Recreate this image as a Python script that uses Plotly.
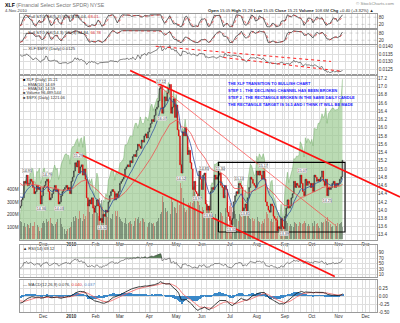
import numpy as np
import pandas as pd
import plotly.graph_objects as go

W, H = 400, 323
FONT = "Liberation Sans"

# ---------------- data ----------------
warmup_closes = [14.90, 15.00, 15.10, 15.20, 15.30, 15.10, 14.90, 14.80, 14.70, 14.90,
                 15.00, 14.60, 14.50, 14.60, 14.30, 14.20, 14.40, 14.30, 14.10, 14.05]

xlf_nov09 = [14.10, 14.25, 14.30, 14.70, 14.65, 14.85, 14.60, 14.65, 14.75, 14.70, 14.55, 14.40, 14.45, 14.60, 14.50, 14.55, 14.15, 14.35]
xlf_dec09 = [14.55, 14.60, 14.70, 14.75, 14.45, 14.25, 14.30, 14.40, 14.50, 14.60, 14.45, 14.50, 14.15, 14.20, 14.35, 14.45, 14.50, 14.55, 14.60, 14.50, 14.55, 14.40]
xlf_jan10 = [14.70, 14.80, 14.95, 15.15, 15.05, 15.20, 14.90, 15.05, 15.10, 14.85, 15.00, 14.75, 14.30, 14.10, 14.25, 14.15, 14.30, 14.05, 13.95]
xlf_feb10 = [14.10, 14.25, 14.10, 13.75, 13.80, 13.70, 13.90, 13.85, 14.00, 13.95, 14.20, 14.35, 14.45, 14.50, 14.45, 14.25, 14.40, 14.30, 14.45]
xlf_mar10 = [14.65, 14.70, 14.75, 14.80, 15.00, 15.05, 15.10, 15.05, 15.20, 15.15, 15.30, 15.35, 15.30, 15.45, 15.60, 15.55, 15.50, 15.70, 15.65, 15.80, 15.85, 15.75, 15.90]
xlf_apr10 = [16.00, 16.10, 16.20, 16.15, 16.30, 16.45, 16.50, 16.65, 16.95, 17.00, 16.35, 16.50, 16.75, 16.65, 16.85, 16.95, 17.05, 16.35, 16.50, 16.70, 16.25]
xlf_may10 = [16.55, 15.95, 15.80, 15.10, 14.90, 15.90, 15.80, 16.00, 15.80, 15.35, 15.45, 15.15, 15.00, 14.50, 14.70, 14.45, 14.40, 14.30, 14.95, 14.75]
xlf_jun10 = [14.50, 14.85, 14.90, 14.15, 14.00, 14.10, 14.00, 14.45, 14.55, 14.50, 14.85, 14.75, 14.80, 14.85, 14.90, 14.60, 14.55, 14.30, 14.60, 14.50, 13.95, 13.85]
xlf_jul10 = [13.75, 13.65, 13.80, 14.20, 14.35, 14.45, 14.40, 14.65, 14.60, 14.55, 13.95, 14.05, 14.15, 13.90, 14.30, 14.55, 14.80, 14.75, 14.65, 14.60, 14.55]
xlf_aug10 = [14.95, 14.85, 14.95, 14.85, 14.75, 14.95, 14.75, 14.20, 14.10, 14.00, 13.95, 14.15, 14.10, 13.85, 13.80, 13.75, 13.50, 13.60, 13.55, 13.80, 13.60, 13.55]
xlf_sep10 = [13.85, 14.05, 14.25, 14.05, 14.10, 14.30, 14.40, 14.70, 14.55, 14.65, 14.60, 14.55, 14.85, 14.65, 14.45, 14.35, 14.75, 14.60, 14.70, 14.65, 14.55]
xlf_oct10 = [14.65, 14.45, 14.85, 14.80, 14.70, 14.75, 14.70, 14.80, 14.95, 14.70, 14.60, 14.75, 14.35, 14.55, 14.50, 14.55, 14.65, 14.70, 14.55, 14.65, 14.60]
xlf_nov10 = [14.65, 14.75, 14.81, 15.21]

spx_nov09 = [1046, 1066, 1069, 1093, 1093, 1098, 1087, 1093, 1109, 1110, 1109, 1094, 1091, 1106, 1105, 1110, 1091, 1096]
spx_dec09 = [1109, 1110, 1099, 1106, 1104, 1092, 1096, 1102, 1106, 1114, 1108, 1110, 1096, 1102, 1114, 1118, 1121, 1127, 1128, 1126, 1126, 1115]
spx_jan10 = [1133, 1137, 1137, 1142, 1145, 1147, 1137, 1146, 1148, 1136, 1150, 1138, 1116, 1091, 1096, 1092, 1097, 1084, 1074]
spx_feb10 = [1090, 1104, 1098, 1063, 1066, 1056, 1070, 1068, 1078, 1075, 1095, 1099, 1106, 1109, 1108, 1095, 1105, 1102, 1105]
spx_mar10 = [1116, 1118, 1119, 1123, 1139, 1139, 1141, 1146, 1150, 1150, 1150, 1160, 1166, 1166, 1160, 1166, 1174, 1167, 1165, 1167, 1174, 1173, 1169]
spx_apr10 = [1178, 1187, 1190, 1182, 1187, 1194, 1197, 1197, 1211, 1211, 1192, 1198, 1207, 1205, 1208, 1217, 1212, 1183, 1191, 1207, 1187]
spx_may10 = [1202, 1173, 1166, 1128, 1111, 1160, 1156, 1171, 1158, 1136, 1136, 1121, 1116, 1072, 1088, 1074, 1075, 1067, 1103, 1089]
spx_jun10 = [1071, 1099, 1103, 1065, 1050, 1063, 1056, 1087, 1092, 1090, 1115, 1115, 1116, 1118, 1113, 1095, 1093, 1076, 1077, 1074, 1041, 1031]
spx_jul10 = [1027, 1022, 1028, 1060, 1070, 1078, 1079, 1095, 1096, 1096, 1065, 1071, 1083, 1069, 1094, 1103, 1115, 1113, 1106, 1101, 1102]
spx_aug10 = [1125, 1120, 1128, 1125, 1122, 1128, 1122, 1089, 1084, 1080, 1080, 1093, 1095, 1075, 1071, 1067, 1052, 1055, 1047, 1065, 1049, 1049]
spx_sep10 = [1080, 1090, 1105, 1092, 1099, 1104, 1110, 1122, 1121, 1125, 1125, 1126, 1143, 1140, 1134, 1124, 1148, 1142, 1147, 1145, 1141]
spx_oct10 = [1146, 1138, 1160, 1159, 1158, 1166, 1166, 1170, 1178, 1173, 1176, 1185, 1166, 1178, 1180, 1183, 1185, 1185, 1182, 1183, 1183]
spx_nov10 = [1185, 1193, 1198, 1221]

vol_nov09 = [150, 140, 110, 130, 100, 120, 115, 95, 130, 110, 105, 140, 120, 115, 100, 70, 90, 130]
vol_dec09 = [150, 130, 160, 140, 150, 170, 130, 120, 110, 120, 140, 160, 190, 170, 120, 100, 80, 40, 70, 80, 90, 100]
vol_jan10 = [140, 180, 150, 190, 170, 160, 230, 170, 150, 200, 160, 190, 290, 310, 220, 230, 200, 260, 280]
vol_feb10 = [220, 210, 190, 330, 320, 260, 240, 200, 190, 180, 210, 170, 160, 200, 150, 230, 190, 230, 180]
vol_mar10 = [160, 150, 140, 130, 170, 120, 130, 140, 150, 120, 110, 150, 170, 160, 180, 130, 150, 170, 160, 140, 110, 100, 130]
vol_apr10 = [140, 130, 120, 130, 110, 140, 150, 170, 200, 220, 350, 300, 250, 220, 230, 210, 200, 340, 300, 260, 250]
vol_may10 = [210, 300, 280, 450, 410, 330, 250, 220, 240, 290, 280, 300, 290, 420, 380, 250, 330, 300, 280, 220]
vol_jun10 = [260, 240, 210, 320, 280, 260, 250, 220, 190, 180, 200, 170, 160, 200, 220, 210, 190, 230, 250, 180, 300, 270]
vol_jul10 = [290, 260, 220, 230, 200, 160, 150, 200, 190, 180, 260, 190, 200, 210, 200, 170, 160, 170, 150, 160, 150]
vol_aug10 = [180, 150, 140, 120, 150, 130, 160, 220, 200, 170, 150, 160, 140, 180, 150, 140, 190, 170, 180, 160, 120, 150]
vol_sep10 = [200, 150, 130, 110, 120, 110, 100, 140, 130, 120, 110, 140, 130, 120, 130, 150, 130, 110, 120, 110, 120]
vol_oct10 = [130, 110, 150, 120, 130, 110, 90, 140, 130, 140, 160, 150, 180, 140, 120, 100, 110, 110, 120, 110, 130]
vol_nov10 = [120, 130, 140, 97]

month_labels = ["Dec", "<b>2010</b>", "Feb", "Mar", "Apr", "May", "Jun", "Jul", "Aug", "Sep", "Oct", "Nov", "Dec"]

upper_channel = (["2010-03-11", "2011-01-10"], [17.39, 14.32])
lower_channel = (["2010-01-08", "2010-10-27"], [15.40, 12.39])
thin_line = (["2010-04-13", "2010-10-27"], [17.03, 13.64])
rect_dates = ["2010-06-18", "2010-11-08"]
rect_prices = [13.47, 15.16]
ratio_line1 = (["2010-04-09", "2010-10-22"], [0.01402, 0.01302])
ratio_line2 = (["2010-06-24", "2010-11-04"], [0.01328, 0.01237])

pivots = [("2009-11-11", "14.95", 1), ("2009-11-27", "14.36", -1), ("2009-12-04", "14.79", 1),
          ("2009-12-17", "14.03", -1), ("2010-01-11", "15.29", 1), ("2010-02-08", "13.52", -1),
          ("2010-04-15", "17.12", 1), ("2010-04-16", "16.07", -1), ("2010-05-07", "14.52", -1),
          ("2010-05-25", "13.97", -1), ("2010-06-03", "14.85", 1), ("2010-06-08", "13.84", -1),
          ("2010-06-21", "15.30", 1), ("2010-07-02", "13.31", -1), ("2010-07-13", "15.13", 1),
          ("2010-07-20", "13.81", -1), ("2010-08-09", "15.17", 1), ("2010-08-31", "13.39", -1),
          ("2010-09-21", "15.07", 1), ("2010-10-19", "14.25", -1)]

# ---------------- derived ----------------
closes = (xlf_nov09 + xlf_dec09 + xlf_jan10 + xlf_feb10 + xlf_mar10 + xlf_apr10 + xlf_may10 +
          xlf_jun10 + xlf_jul10 + xlf_aug10 + xlf_sep10 + xlf_oct10 + xlf_nov10)
spx = (spx_nov09 + spx_dec09 + spx_jan10 + spx_feb10 + spx_mar10 + spx_apr10 + spx_may10 +
       spx_jun10 + spx_jul10 + spx_aug10 + spx_sep10 + spx_oct10 + spx_nov10)
vols = (vol_nov09 + vol_dec09 + vol_jan10 + vol_feb10 + vol_mar10 + vol_apr10 + vol_may10 +
        vol_jun10 + vol_jul10 + vol_aug10 + vol_sep10 + vol_oct10 + vol_nov10)

holidays = pd.to_datetime(['2009-11-26', '2009-12-25', '2010-01-01', '2010-01-18', '2010-02-15', '2010-04-02',
                           '2010-05-31', '2010-07-05', '2010-09-06', '2010-11-25', '2010-12-24'])
all_days = pd.bdate_range('2009-11-04', '2011-01-31')
all_days = all_days[~all_days.isin(holidays)]
n = len(closes)
idx = list(range(n))

def di(s):
    return int(all_days.searchsorted(pd.Timestamp(s)))

mt = []
prev_m = None
for i, d in enumerate(all_days):
    if d.month != prev_m:
        if i > 0:
            mt.append(i)
        prev_m = d.month
mt = mt[:len(month_labels)]
wk = [i for i, d in enumerate(all_days) if i > 0 and d.weekday() < all_days[i - 1].weekday() and i < 285]
gvals = sorted(set(wk) | set(mt))
gtext = [month_labels[mt.index(v)] if v in mt else "" for v in gvals]

allc = np.array(warmup_closes + closes, dtype=float)
nw = len(warmup_closes)
prevc = np.concatenate([[allc[0]], allc[:-1]])
hi = np.maximum(prevc, allc)
lo = np.minimum(prevc, allc)
s = pd.Series(allc)
opens = prevc[nw:].tolist()
highs = hi[nw:].tolist()
lows = lo[nw:].tolist()
cl = allc[nw:].tolist()

ema10 = s.ewm(span=10, adjust=False).mean().values[nw:].tolist()
ema34 = s.ewm(span=34, adjust=False).mean().values[nw:].tolist()

def full_sto(k, sk=3, d=3):
    hh = pd.Series(hi).rolling(k, min_periods=1).max()
    ll = pd.Series(lo).rolling(k, min_periods=1).min()
    rng = (hh - ll).replace(0, np.nan)
    fast = (100 * (s - ll) / rng).fillna(50)
    slow = fast.rolling(sk, min_periods=1).mean()
    dd = slow.rolling(d, min_periods=1).mean()
    return slow.values[nw:].tolist(), dd.values[nw:].tolist()

sto1k, sto1d = full_sto(5)
sto2k, sto2d = full_sto(14)
ratio = (np.array(closes) / np.array(spx)).tolist()

delta = s.diff().fillna(0)
up = delta.clip(lower=0).ewm(alpha=1 / 14, adjust=False).mean()
dn = (-delta.clip(upper=0)).ewm(alpha=1 / 14, adjust=False).mean()
rsi = (100 - 100 / (1 + up / dn.replace(0, np.nan))).fillna(50).values[nw:]

macd_s = (s.ewm(span=12, adjust=False).mean() - s.ewm(span=26, adjust=False).mean())
sig_s = macd_s.ewm(span=9, adjust=False).mean()
hist = (macd_s - sig_s).values[nw:].tolist()
macd = macd_s.values[nw:].tolist()
sig = sig_s.values[nw:].tolist()

# ---------------- layout geometry ----------------
PL, PR = 19.5, 377.0
XR = [-0.5, 279.0]

def xd(l, r):
    return [l / W, r / W]

def yd(t, b):
    return [1 - b / H, 1 - t / H]

MAIN = (76, 242)
def price_at(y):
    return 17.2 - (y - 79) / 41.6
PRANGE = [price_at(MAIN[1]), price_at(MAIN[0])]
def spx_at(y):
    return 1221 - (y - 80) / 0.809
SRANGE = [spx_at(MAIN[1]), spx_at(MAIN[0])]
VRANGE = [0, (MAIN[1] - MAIN[0]) / 12.6 * 100]
ptick = [round(float(v), 1) for v in np.arange(13.4, 17.21, 0.2)]
def y_of_price(p):
    return 79 + (17.2 - p) * 41.6
stick = [spx_at(y_of_price(p)) for p in ptick]

RAT = (45, 76)
def ratio_at(y):
    return 0.0140 - (y - 47) / 15333.0
RRANGE = [ratio_at(RAT[1]), ratio_at(RAT[0])]

STO1 = (14, 28)
STO2 = (30, 44)
RSIP = (247, 280)
def rsi_at(y):
    return 90 - (y - 255) / 0.275
RSIR = [rsi_at(RSIP[1]), rsi_at(RSIP[0])]
MACP = (283, 315)
def macd_at(y):
    return 0.25 - (y - 291) / 32.0
MRANGE = [macd_at(MACP[1]), macd_at(MACP[0])]

def u_at(px):
    return XR[0] + (px - PL) / (PR - PL) * (XR[1] - XR[0])

GRID = "#dedede"
BORDER = "#9a9a9a"
TICKF = dict(size=4.6, color="#333", family=FONT)

def xaxis_cfg(dom_anchor, labels=False):
    return dict(domain=xd(PL, PR), range=XR, anchor=dom_anchor, tickmode="array", tickvals=gvals,
                ticktext=gtext, showticklabels=labels, tickfont=TICKF, ticks="",
                showgrid=True, gridcolor=GRID, gridwidth=0.6, zeroline=False,
                showline=True, mirror=True, linecolor=BORDER, linewidth=0.7,
                rangeslider=dict(visible=False))

def yaxis_cfg(dom, rng, tv, tt, anchor, grid=True):
    return dict(domain=yd(*dom), range=rng, anchor=anchor, side="right", tickmode="array",
                tickvals=tv, ticktext=tt, tickfont=TICKF, ticks="", showgrid=grid, gridcolor=GRID,
                gridwidth=0.5, zeroline=False, showline=True, mirror=True, linecolor=BORDER,
                linewidth=0.7)

fig = go.Figure()

fig.add_trace(go.Scatter(x=idx, y=spx, mode="lines", fill="tozeroy", line=dict(color="rgba(110,170,100,0.9)", width=0.5),
                         fillcolor="rgba(150,200,140,0.65)", xaxis="x", yaxis="y", hoverinfo="skip"))
vcol = ["rgba(205,90,80,0.6)" if (i > 0 and closes[i] < closes[i - 1]) else "rgba(70,80,70,0.5)" for i in range(n)]
fig.add_trace(go.Bar(x=idx, y=vols, marker=dict(color=vcol, line=dict(width=0)), width=0.75,
                     xaxis="x", yaxis="y2", hoverinfo="skip"))
fig.add_trace(go.Scatter(x=idx, y=ema34, mode="lines", line=dict(color="#f05050", width=0.8), xaxis="x", yaxis="y3"))
fig.add_trace(go.Scatter(x=idx, y=ema10, mode="lines", line=dict(color="#3050a0", width=0.8), xaxis="x", yaxis="y3"))
fig.add_trace(go.Candlestick(x=idx, open=opens, high=highs, low=lows, close=cl, xaxis="x", yaxis="y3",
                             increasing=dict(line=dict(color="#111", width=0.6), fillcolor="#ffffff"),
                             decreasing=dict(line=dict(color="#e00000", width=0.6), fillcolor="#e00000"),
                             whiskerwidth=0, hoverinfo="skip"))
rx = [di(rect_dates[0]), di(rect_dates[1]), di(rect_dates[1]), di(rect_dates[0]), di(rect_dates[0])]
ry = [rect_prices[0], rect_prices[0], rect_prices[1], rect_prices[1], rect_prices[0]]
fig.add_trace(go.Scatter(x=rx, y=ry, mode="lines", line=dict(color="#000", width=1.1), xaxis="x", yaxis="y3"))

for (kk, dd, xa, ya) in [(sto1k, sto1d, "x2", "y4"), (sto2k, sto2d, "x3", "y5")]:
    fig.add_trace(go.Scatter(x=[XR[0], XR[1]], y=[80, 80], mode="lines", line=dict(color="#aaa", width=0.5, dash="dot"), xaxis=xa, yaxis=ya))
    fig.add_trace(go.Scatter(x=[XR[0], XR[1]], y=[20, 20], mode="lines", line=dict(color="#aaa", width=0.5, dash="dot"), xaxis=xa, yaxis=ya))
    fig.add_trace(go.Scatter(x=idx, y=kk, mode="lines", line=dict(color="#222", width=0.7), xaxis=xa, yaxis=ya))
    fig.add_trace(go.Scatter(x=idx, y=dd, mode="lines", line=dict(color="#e03030", width=0.7, dash="dot"), xaxis=xa, yaxis=ya))

fig.add_trace(go.Scatter(x=idx, y=ratio, mode="lines", line=dict(color="#333", width=0.6), xaxis="x4", yaxis="y6"))
for ln in (ratio_line1, ratio_line2):
    fig.add_trace(go.Scatter(x=[di(d) for d in ln[0]], y=ln[1], mode="lines",
                             line=dict(color="#ff2020", width=1.0, dash="dot"), xaxis="x4", yaxis="y6"))

fig.add_trace(go.Scatter(x=idx, y=[70.0] * n, mode="lines", line=dict(color="#999", width=0.4), xaxis="x5", yaxis="y7"))
fig.add_trace(go.Scatter(x=idx, y=np.maximum(rsi, 70).tolist(), mode="lines", line=dict(width=0), fill="tonexty",
                         fillcolor="rgba(50,100,50,0.85)", xaxis="x5", yaxis="y7"))
fig.add_trace(go.Scatter(x=idx, y=[30.0] * n, mode="lines", line=dict(color="#999", width=0.4), xaxis="x5", yaxis="y7"))
fig.add_trace(go.Scatter(x=idx, y=np.minimum(rsi, 30).tolist(), mode="lines", line=dict(width=0), fill="tonexty",
                         fillcolor="rgba(200,50,50,0.7)", xaxis="x5", yaxis="y7"))
fig.add_trace(go.Scatter(x=idx, y=rsi.tolist(), mode="lines", line=dict(color="#444", width=0.6), xaxis="x5", yaxis="y7"))

fig.add_trace(go.Bar(x=idx, y=hist, marker=dict(color="#3a88c8", line=dict(width=0)), width=1.0, xaxis="x6", yaxis="y8"))
fig.add_trace(go.Scatter(x=idx, y=sig, mode="lines", line=dict(color="#f06060", width=0.8), xaxis="x6", yaxis="y8"))
fig.add_trace(go.Scatter(x=idx, y=macd, mode="lines", line=dict(color="#111", width=0.8), xaxis="x6", yaxis="y8"))

FX = [u_at(0), u_at(W)]
FY = [price_at(H), price_at(0)]
for ln, wdt, col in ((upper_channel, 1.6, "#ff1010"), (lower_channel, 1.6, "#ff1010"), (thin_line, 0.7, "#ff4040")):
    fig.add_trace(go.Scatter(x=[di(d) for d in ln[0]], y=ln[1], mode="lines", line=dict(color=col, width=wdt),
                             xaxis="x7", yaxis="y9"))

lay = dict(
    width=W, height=H, margin=dict(l=0, r=0, t=0, b=0), paper_bgcolor="white", plot_bgcolor="rgba(0,0,0,0)",
    showlegend=False, bargap=0,
    xaxis=xaxis_cfg("y", labels=True),
    yaxis=dict(domain=yd(*MAIN), range=SRANGE, anchor="x", tickmode="array", tickvals=stick, showticklabels=False,
               ticks="", showgrid=True, gridcolor=GRID, gridwidth=0.5, zeroline=False, showline=True, mirror=True,
               linecolor=BORDER, linewidth=0.7),
    yaxis2=dict(domain=yd(*MAIN), range=VRANGE, overlaying="y", anchor="x", side="left", tickmode="array",
                tickvals=[100, 200, 300, 400], ticktext=["100M", "200M", "300M", "400M"], tickfont=TICKF,
                ticks="", showgrid=False, zeroline=False),
    yaxis3=dict(domain=yd(*MAIN), range=PRANGE, overlaying="y", anchor="x", side="right", tickmode="array",
                tickvals=ptick, ticktext=["%.1f" % v for v in ptick], tickfont=TICKF, ticks="",
                showgrid=False, zeroline=False),
    xaxis2=xaxis_cfg("y4"), yaxis4=yaxis_cfg(STO1, [-8, 108], [80, 20], ["80", "20"], "x2", grid=False),
    xaxis3=xaxis_cfg("y5"), yaxis5=yaxis_cfg(STO2, [-8, 108], [80, 20], ["80", "20"], "x3", grid=False),
    xaxis4=xaxis_cfg("y6"), yaxis6=yaxis_cfg(RAT, RRANGE, [0.0125, 0.0130, 0.0135, 0.0140],
                                             ["0.0125", "0.0130", "0.0135", "0.0140"], "x4"),
    xaxis5=xaxis_cfg("y7"), yaxis7=yaxis_cfg(RSIP, RSIR, [10, 30, 50, 70, 90], ["10", "30", "50", "70", "90"], "x5"),
    xaxis6=xaxis_cfg("y8", labels=True), yaxis8=yaxis_cfg(MACP, MRANGE, [-0.5, -0.25, 0, 0.25],
                                                          ["-0.50", "-0.25", "0.00", "0.25"], "x6"),
    xaxis7=dict(domain=[0, 1], range=FX, anchor="y9", visible=False),
    yaxis9=dict(domain=[0, 1], range=FY, anchor="x7", visible=False),
)
fig.update_layout(**lay)

ann = []
def text(x, y, s, size=4.6, color="#333", xanchor="left", yanchor="middle", **kw):
    ann.append(dict(x=x / W, y=1 - y / H, xref="paper", yref="paper", text=s, showarrow=False,
                    xanchor=xanchor, yanchor=yanchor, font=dict(size=size, color=color, family=FONT), **kw))

text(3, 5, "<b>XLF</b> <span style='color:#777'>(Financial Select Sector SPDR) NYSE</span>", size=5.2, color="#000")
text(3, 10.5, "4-Nov-2010", size=4.2, color="#444")
text(396, 4, "© StockCharts.com", size=4.4, color="#888", xanchor="right")
text(376, 10.5, "<b>Open</b> 15.05 <b>High</b> 15.28 <b>Low</b> 15.05 <b>Close</b> 15.21 <b>Volume</b> 108.6M <b>Chg</b> +0.40 (+3.32%) ▲",
     size=4.2, color="#222", xanchor="right")
text(21, 17, "— Full STO %K(5,3) %D(3) 85.04, <span style='color:#e03030'>68.01</span>", size=4.2, color="#333")
text(21, 33, "— Full STO %K(14,3) %D(3) 84.84, <span style='color:#e03030'>66.78</span>", size=4.2, color="#333")
text(21, 48.5, "— XLF:$SPX (Daily) 0.0125", size=4.2, color="#333")
leg = ["<span style='color:#000'>■</span> XLF (Daily) 15.21",
       "<span style='color:#3050a0'>—</span> EMA(10) 14.69",
       "<span style='color:#f05050'>—</span> EMA(34) 14.59",
       "<span style='color:#555'>■</span> Volume 96,489,544",
       "<span style='color:#555'>■</span> $SPX (Daily) 1221.06"]
for k, s_ in enumerate(leg):
    text(21, 80.5 + 4.4 * k, s_, size=4.0, color="#333")
text(21, 251, "▲ RSI(14) 69.12", size=4.2, color="#333")
text(21, 287, "— MACD(12,26,9) 0.076, <span style='color:#e03030'>0.040</span>, <span style='color:#5080c0'>0.037</span>",
     size=4.2, color="#333")

blue = ["THE XLF TRANSITION TO BULLISH CHART",
        "STEP 1 - THE DECLINING CHANNEL HAS BEEN BROKEN",
        "STEP 2 - THE RECTANGLE BROKEN IN THE SAME DAILY CANDLE",
        "THE RECTANGLE TARGET IS 16.5 AND I THINK IT WILL BE MADE"]
for k, s_ in enumerate(blue):
    text(226, 84.3 + 7.2 * k, "<b>" + s_ + "</b>", size=4.0, color="#1a1aff")

for d, t, sgn in pivots:
    i = di(d)
    p = highs[i] if sgn > 0 else lows[i]
    ann.append(dict(x=i, y=p, xref="x", yref="y3", text=t, showarrow=False, yshift=5 * sgn,
                    font=dict(size=3.6, color="#333", family=FONT), bgcolor="white",
                    bordercolor="#aaa", borderwidth=0.4, borderpad=0.3))

fig.update_layout(annotations=ann)
fig.write_html("out.html")
